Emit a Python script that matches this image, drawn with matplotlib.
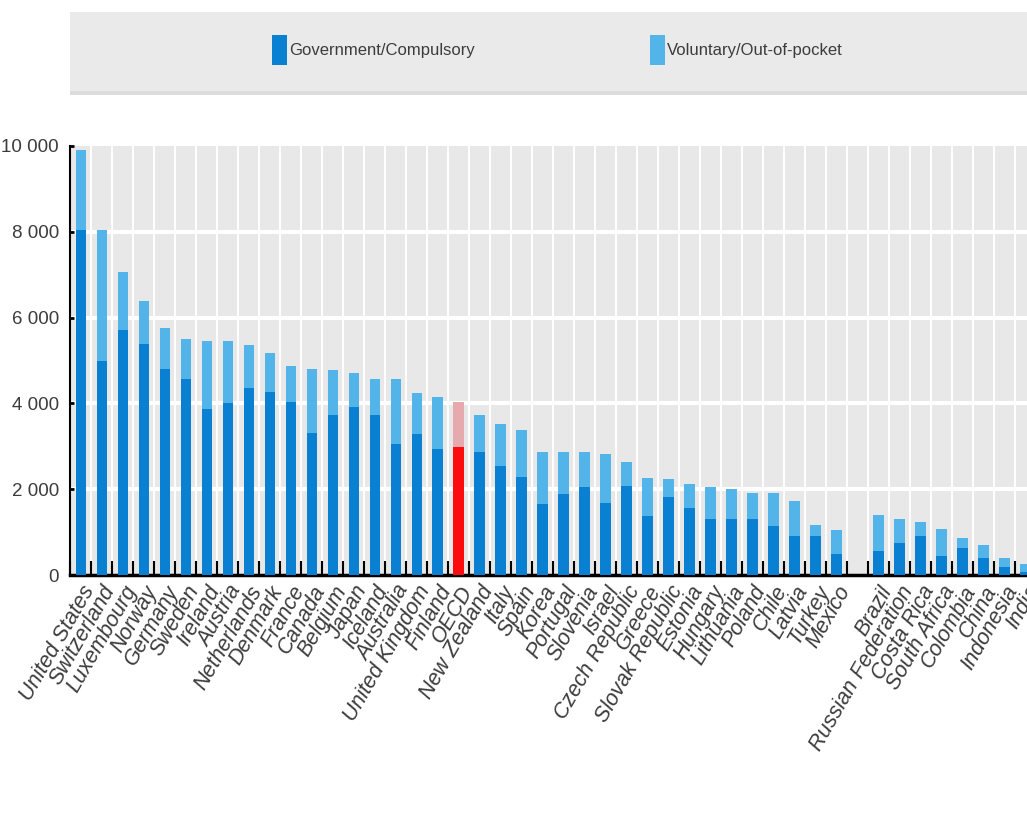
import numpy as np
import matplotlib
matplotlib.use("Agg")
import matplotlib.pyplot as plt
from matplotlib.patches import Rectangle

# health spending per capita (USD PPP), split by financing scheme
countries = ["United States", "Switzerland", "Luxembourg", "Norway", "Germany", "Sweden",
             "Ireland", "Austria", "Netherlands", "Denmark", "France", "Canada", "Belgium",
             "Japan", "Iceland", "Australia", "United Kingdom", "Finland", "OECD",
             "New Zealand", "Italy", "Spain", "Korea", "Portugal", "Slovenia", "Israel",
             "Czech Republic", "Greece", "Slovak Republic", "Estonia", "Hungary", "Lithuania",
             "Poland", "Chile", "Latvia", "Turkey", "Mexico", "",
             "Brazil", "Russian Federation", "Costa Rica", "South Africa", "Colombia",
             "China", "Indonesia", "India"]
gov = [8050, 4980, 5720, 5390, 4800, 4560, 3880, 4000, 4350, 4270, 4040, 3300, 3725,
       3920, 3725, 3060, 3290, 2940, 2980, 2860, 2550, 2280, 1650, 1880, 2040, 1690,
       2080, 1370, 1820, 1570, 1310, 1310, 1310, 1150, 900, 900, 490, np.nan,
       570, 750, 900, 450, 620, 400, 180, 80]
voluntary = [1850, 3060, 1340, 990, 960, 940, 1570, 1450, 1020, 910, 840, 1500, 1055,
             790, 845, 1510, 950, 1220, 1060, 860, 980, 1090, 1210, 980, 820, 1130,
             550, 900, 420, 560, 740, 700, 610, 760, 820, 260, 570, np.nan,
             820, 560, 330, 630, 250, 310, 210, 170]
highlight = "OECD"

yticks = [0, 2000, 4000, 6000, 8000, 10000]
ytick_labels = ["0", "2 000", "4 000", "6 000", "8 000", "10 000"]

gov_color = "#0a80d2"
vol_color = "#52b4e8"
oecd_gov = "#fc0d0d"
oecd_vol = "#e6a9ad"
panel = "#e8e8e8"
font = ["Liberation Sans", "DejaVu Sans"]
text_color = "#3c3c3c"

fig = plt.figure(figsize=(10.27, 8.27), dpi=100)
ax = fig.add_axes([0.0682, 0.3047, 0.9406, 0.5188])
ax.set_facecolor(panel)

x = np.arange(len(countries))
gcol = [oecd_gov if c == highlight else gov_color for c in countries]
vcol = [oecd_vol if c == highlight else vol_color for c in countries]
ax.bar(x, gov, width=0.48, color=gcol, zorder=3)
ax.bar(x, voluntary, width=0.48, bottom=gov, color=vcol, zorder=3)

ax.set_xlim(-0.5, len(countries) - 0.5)
ax.set_ylim(0, 10000)

# white grid: horizontal at the y ticks, vertical between categories
for yv in yticks[1:-1]:
    ax.axhline(yv, color="white", lw=3, zorder=1)
for b in np.arange(len(countries) + 1) - 0.5:
    ax.axvline(b, color="white", lw=1.4, zorder=1)

ax.set_yticks(yticks)
ax.set_yticklabels(ytick_labels, family=font, fontsize=13.5, color=text_color)
ax.tick_params(axis="y", direction="in", length=3, width=2, color="black", pad=8)

ax.set_xticks(np.arange(len(countries) + 1) - 0.5, minor=True)
ax.set_xticks(x)
ax.set_xticklabels(countries, rotation=60, ha="right", va="top", rotation_mode="anchor",
                   family=font, style="italic", fontsize=15.5, color=text_color)
ax.tick_params(axis="x", which="major", length=0, pad=5)
ax.tick_params(axis="x", which="minor", direction="in", length=10, width=1.5, color="black")

for side in ("top", "right"):
    ax.spines[side].set_visible(False)
ax.spines["bottom"].set_linewidth(2.5)
ax.spines["left"].set_linewidth(1.5)
ax.spines["left"].set_bounds(0, 10000)

# legend band across the top
fig.patches.append(Rectangle((0.0682, 0.889), 0.94, 0.097, transform=fig.transFigure,
                             facecolor="#eaeaea", edgecolor="none", zorder=0))
fig.patches.append(Rectangle((0.0682, 0.885), 0.94, 0.005, transform=fig.transFigure,
                             facecolor="#dcdcdc", edgecolor="none", zorder=0))
legend_items = [("Government/Compulsory", gov_color, 0.265),
                ("Voluntary/Out-of-pocket", vol_color, 0.633)]
for label, col, lx in legend_items:
    fig.patches.append(Rectangle((lx, 0.921), 0.0146, 0.037, transform=fig.transFigure,
                                 facecolor=col, edgecolor="none"))
    fig.text(lx + 0.0165, 0.939, label, family=font, fontsize=12, color=text_color,
             ha="left", va="center")

fig.savefig("out.png", dpi=100)
